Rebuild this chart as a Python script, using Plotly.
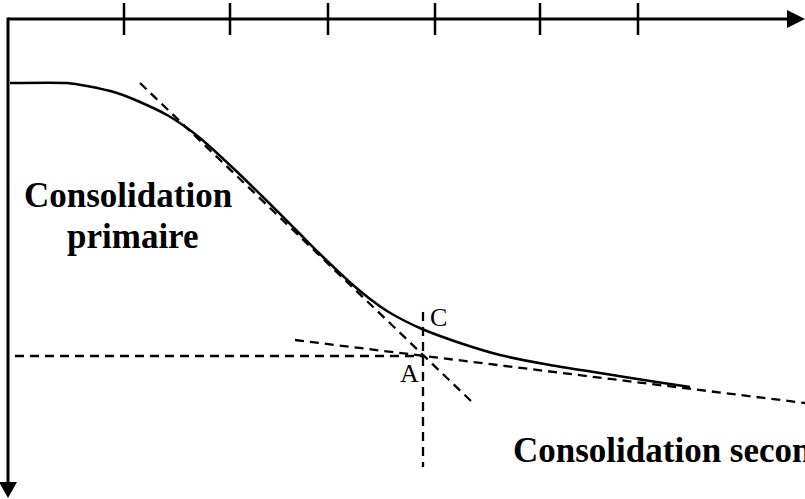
import plotly.graph_objects as go

# courbe de consolidation - tassement en fonction du temps (axe y vers le bas)
curve_x = [10, 67, 87, 117, 140, 167, 187, 200, 233, 267, 300, 320, 353, 370, 387, 403, 422,
           460, 500, 550, 600, 650, 690]
curve_y = [83, 83, 86, 93, 102, 115, 128, 138, 168, 201, 234, 254, 285, 299, 311, 320, 329,
           343, 355, 365, 373, 381, 387]

# tangentes (primaire et secondaire)
tang1_x = [140, 472]
tang1_y = [83, 402]
tang2_x = [295, 805]
tang2_y = [340, 403]

# point A (intersection) et reperes
point_a = (423, 356)
hline_x0 = 15
vline_y = [312, 467]

# axe du temps (en haut) et graduations
tick_x = [124, 230, 328, 435, 540, 638]
axis_y0 = 19
axis_x0 = 8

W, H = 805, 499
DASH = '9px,6px'


def Graf():
  fig = go.Figure()

  # axes
  fig.add_trace(go.Scatter(x=[axis_x0, 790], y=[axis_y0, axis_y0], mode='lines',
                           line=dict(color='black', width=3)))
  fig.add_trace(go.Scatter(x=[axis_x0, axis_x0], y=[axis_y0 - 1.5, 484], mode='lines',
                           line=dict(color='black', width=3)))
  tx, ty = [], []
  for t in tick_x:
    tx += [t, t, None]
    ty += [3, 35, None]
  fig.add_trace(go.Scatter(x=tx, y=ty, mode='lines', line=dict(color='black', width=2.5)))

  # droites en pointilles
  dl = dict(color='black', width=2.3, dash=DASH)
  fig.add_trace(go.Scatter(x=tang1_x, y=tang1_y, mode='lines', line=dl))
  fig.add_trace(go.Scatter(x=tang2_x, y=tang2_y, mode='lines', line=dl))
  fig.add_trace(go.Scatter(x=[hline_x0, point_a[0]], y=[point_a[1], point_a[1]], mode='lines', line=dl))
  fig.add_trace(go.Scatter(x=[point_a[0], point_a[0]], y=vline_y, mode='lines', line=dl))

  # courbe
  fig.add_trace(go.Scatter(x=curve_x, y=curve_y, mode='lines',
                           line=dict(color='black', width=2.5, shape='spline', smoothing=0.6)))

  # fleches des axes
  fig.add_shape(type='path', xref='x', yref='y', fillcolor='black', line=dict(width=0),
                path='M 787 10 L 805 19 L 787 28 Z')
  fig.add_shape(type='path', xref='x', yref='y', fillcolor='black', line=dict(width=0),
                path='M -1 482 L 8 498 L 17 482 Z')

  serif = 'Liberation Serif, Times New Roman, serif'
  big = dict(family=serif, size=35, color='black')
  small = dict(family=serif, size=26, color='black')
  fig.add_annotation(x=128, y=195, text='<b>Consolidation</b>', showarrow=False, font=big,
                     xanchor='center', yanchor='middle')
  fig.add_annotation(x=133, y=236, text='<b>primaire</b>', showarrow=False, font=big,
                     xanchor='center', yanchor='middle')
  # texte coupe au bord droit comme sur l'original
  fig.add_annotation(x=511, y=450, text='<b>Consolidation secondaire</b>', showarrow=False,
                     font=big, xanchor='left', yanchor='middle')
  fig.add_annotation(x=438, y=317, text='C', showarrow=False, font=small,
                     xanchor='center', yanchor='middle')
  fig.add_annotation(x=409, y=373, text='A', showarrow=False, font=small,
                     xanchor='center', yanchor='middle')

  fig.update_xaxes(range=[0, W], visible=False, fixedrange=True)
  fig.update_yaxes(range=[H, 0], visible=False, fixedrange=True)
  fig.update_layout(width=W, height=H, margin=dict(l=0, r=0, t=0, b=0),
                    showlegend=False, plot_bgcolor='white', paper_bgcolor='white')
  # body sans marge -> figure collee au coin de la fenetre
  fig.write_html('out.html', config={'displayModeBar': False},
                 post_script="document.body.style.margin='0';document.body.style.overflow='hidden';")


if __name__ == '__main__':
  Graf()
